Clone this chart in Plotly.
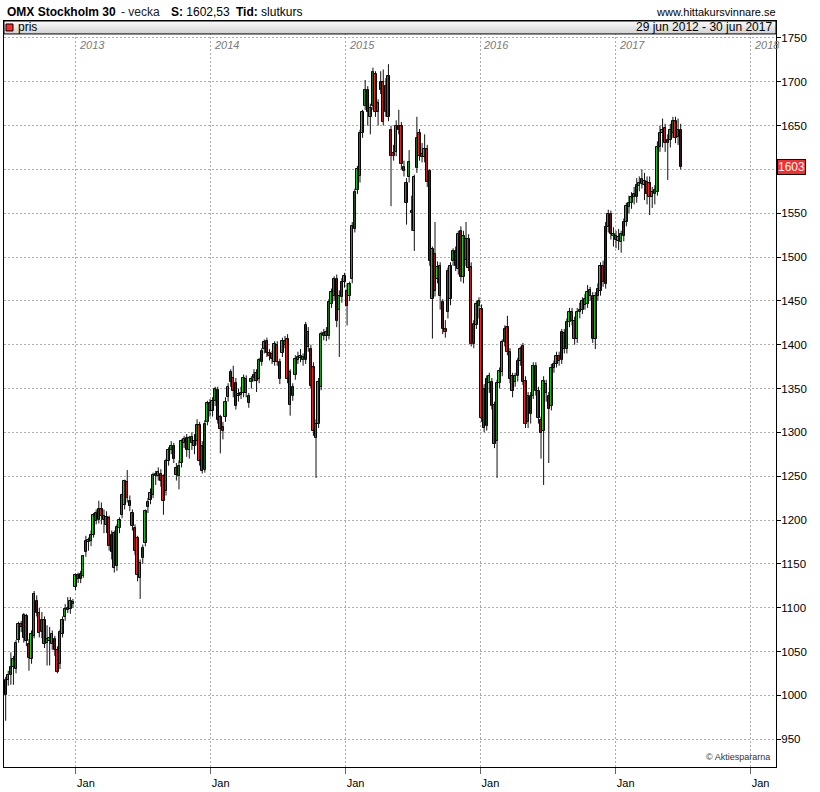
import pandas as pd
import plotly.graph_objects as go

# ---------------- data (weekly OHLC, OMX Stockholm 30) ----------------
first_week = "2012-06-25"

opens = [
    1000,1018,1023,1032,1030,1063,1081,1065,1091,1058,
    1041,1068,1108,1094,1072,1086,1060,1062,1058,1064,
    1052,1036,1070,1089,1097,1098,1104,1123,1137,1133,
    1136,1163,1175,1176,1183,1208,1200,1213,1200,1203,
    1202,1183,1185,1148,1191,1206,1217,1243,1222,1208,
    1191,1180,1134,1157,1174,1215,1223,1228,1250,1250,
    1253,1250,1233,1267,1280,1284,1259,1250,1265,1288,
    1293,1280,1288,1290,1290,1308,1285,1257,1312,1334,
    1324,1336,1348,1318,1306,1318,1340,1358,1362,1356,
    1341,1345,1345,1361,1333,1358,1366,1368,1361,1380,
    1395,1404,1390,1389,1380,1400,1380,1390,1400,1407,
    1369,1341,1365,1383,1385,1383,1382,1415,1395,1375,
    1293,1310,1352,1410,1414,1410,1447,1456,1475,1440,
    1454,1471,1461,1456,1475,1532,1577,1592,1642,1672,
    1691,1660,1672,1709,1665,1691,1700,1665,1706,1645,
    1619,1620,1649,1649,1603,1585,1591,1550,1530,1602,
    1642,1614,1614,1623,1598,1452,1503,1475,1490,1449,
    1418,1437,1452,1495,1507,1486,1530,1477,1497,1521,
    1489,1401,1422,1444,1441,1350,1307,1356,1358,1331,
    1290,1356,1369,1403,1420,1392,1364,1358,1364,1381,
    1398,1359,1342,1321,1342,1376,1347,1314,1301,1355,
    1341,1330,1373,1378,1387,1383,1413,1395,1426,1437,
    1427,1407,1437,1440,1445,1447,1462,1455,1407,1455,
    1461,1490,1469,1534,1549,1524,1524,1518,1517,1524,
    1540,1557,1562,1569,1569,1581,1583,1582,1586,1585,
    1568,1572,1574,1626,1642,1647,1634,1634,1642,1655,
    1637,1645,
]
highs = [
    1021,1028,1049,1045,1063,1084,1085,1094,1093,1064,
    1074,1119,1114,1100,1095,1090,1080,1078,1074,1068,
    1056,1075,1090,1104,1112,1112,1110,1139,1140,1142,
    1160,1182,1180,1188,1208,1212,1222,1220,1212,1210,
    1205,1188,1188,1195,1203,1230,1246,1257,1228,1212,
    1195,1182,1155,1172,1212,1225,1236,1254,1256,1260,
    1258,1252,1270,1283,1290,1288,1265,1268,1292,1296,
    1298,1296,1300,1298,1315,1312,1290,1314,1336,1338,
    1340,1352,1352,1320,1312,1340,1356,1372,1376,1362,
    1350,1352,1366,1365,1345,1364,1372,1372,1385,1396,
    1406,1408,1395,1393,1404,1404,1384,1408,1410,1412,
    1372,1356,1388,1392,1395,1390,1426,1420,1400,1380,
    1315,1362,1415,1418,1420,1452,1464,1478,1480,1462,
    1476,1482,1470,1472,1540,1578,1604,1645,1668,1702,
    1695,1675,1716,1712,1680,1712,1714,1704,1720,1650,
    1628,1656,1668,1654,1610,1590,1622,1570,1594,1660,
    1646,1630,1640,1628,1600,1512,1540,1495,1494,1452,
    1428,1488,1494,1510,1512,1530,1535,1530,1540,1526,
    1494,1428,1450,1454,1446,1355,1365,1368,1362,1335,
    1360,1374,1406,1422,1433,1396,1368,1368,1385,1398,
    1402,1364,1346,1346,1380,1380,1352,1318,1364,1360,
    1346,1378,1382,1392,1392,1418,1418,1430,1442,1442,
    1432,1442,1448,1454,1458,1468,1466,1460,1460,1470,
    1494,1496,1540,1554,1553,1534,1530,1532,1530,1544,
    1562,1570,1574,1580,1590,1592,1600,1596,1592,1592,
    1580,1582,1632,1650,1658,1652,1640,1652,1660,1660,
    1658,1652,
]
lows = [
    971,1011,1012,1012,1025,1060,1072,1060,1056,1028,
    1036,1065,1090,1066,1065,1054,1034,1034,1052,1045,
    1025,1030,1066,1085,1094,1093,1100,1120,1128,1128,
    1134,1158,1165,1170,1180,1195,1196,1195,1185,1185,
    1165,1155,1140,1142,1185,1202,1212,1220,1210,1188,
    1160,1130,1110,1150,1170,1208,1218,1225,1240,1245,
    1238,1206,1228,1262,1275,1265,1245,1235,1260,1282,
    1272,1270,1280,1275,1285,1262,1253,1254,1308,1318,
    1318,1330,1310,1276,1292,1312,1335,1352,1340,1326,
    1335,1338,1340,1340,1328,1350,1358,1346,1356,1376,
    1390,1386,1382,1378,1376,1376,1355,1386,1396,1356,
    1319,1336,1360,1378,1380,1376,1378,1392,1350,1296,
    1248,1305,1348,1405,1404,1406,1442,1450,1420,1386,
    1448,1465,1422,1450,1470,1528,1572,1585,1636,1668,
    1650,1640,1668,1660,1650,1686,1650,1660,1655,1558,
    1610,1615,1640,1600,1592,1537,1585,1530,1507,1596,
    1610,1608,1608,1580,1490,1407,1455,1470,1440,1412,
    1408,1430,1445,1490,1484,1480,1472,1470,1490,1484,
    1398,1396,1418,1430,1312,1300,1302,1345,1326,1282,
    1248,1350,1364,1398,1388,1356,1340,1352,1358,1376,
    1354,1305,1305,1310,1338,1342,1310,1270,1240,1335,
    1265,1325,1368,1374,1376,1378,1390,1390,1420,1422,
    1400,1402,1430,1435,1440,1442,1450,1402,1395,1450,
    1456,1466,1464,1528,1520,1512,1510,1508,1505,1518,
    1535,1550,1555,1560,1562,1575,1578,1565,1560,1548,
    1556,1560,1570,1620,1625,1620,1588,1625,1636,1630,
    1628,1600,
]
closes = [
    1018,1023,1032,1041,1060,1081,1078,1092,1062,1043,
    1070,1116,1094,1071,1086,1058,1064,1065,1070,1052,
    1027,1072,1086,1098,1100,1108,1106,1137,1133,1138,
    1159,1176,1177,1183,1206,1199,1213,1205,1205,1194,
    1170,1163,1145,1192,1200,1228,1244,1225,1216,1193,
    1165,1137,1151,1168,1210,1220,1231,1251,1252,1255,
    1245,1222,1267,1280,1285,1270,1251,1262,1290,1292,
    1280,1293,1295,1285,1308,1267,1256,1310,1334,1324,
    1336,1350,1314,1304,1302,1335,1352,1369,1347,1330,
    1344,1343,1362,1345,1341,1361,1362,1359,1382,1393,
    1403,1390,1387,1384,1401,1380,1361,1404,1404,1361,
    1331,1352,1384,1386,1387,1386,1422,1397,1353,1301,
    1310,1358,1412,1413,1410,1449,1460,1475,1427,1456,
    1471,1478,1444,1469,1535,1574,1600,1642,1665,1691,
    1665,1670,1711,1665,1676,1700,1654,1695,1660,1615,
    1615,1649,1645,1606,1598,1562,1608,1553,1591,1636,
    1615,1617,1623,1586,1495,1509,1461,1489,1455,1418,
    1414,1484,1490,1507,1490,1526,1477,1524,1521,1488,
    1401,1424,1447,1450,1316,1305,1361,1364,1330,1287,
    1356,1370,1403,1418,1392,1361,1347,1364,1381,1395,
    1358,1310,1312,1342,1376,1347,1316,1299,1359,1345,
    1327,1373,1378,1387,1381,1415,1395,1426,1437,1427,
    1407,1437,1440,1450,1452,1460,1455,1407,1455,1464,
    1490,1471,1534,1549,1526,1526,1520,1523,1526,1540,
    1558,1562,1569,1572,1582,1585,1589,1587,1572,1569,
    1574,1576,1626,1642,1645,1630,1630,1645,1655,1636,
    1645,1602.53,
]

year_ticks = ["2013-01-01", "2014-01-01", "2015-01-01",
              "2016-01-01", "2017-01-01", "2018-01-01"]
year_labels = ["2013", "2014", "2015", "2016", "2017", "2018"]
month_label = "Jan"
price_ticks = list(range(950, 1751, 50))
last_label = "1603"

dates = pd.date_range(first_week, periods=len(closes), freq="7D")

# ---------------- geometry helpers (pixels -> paper) ----------------
W, H = 820, 792
ML, MR, MT, MB = 3, 44, 21, 22
PW, PH = W - ML - MR, H - MT - MB


def px(xp):
    return (xp - ML) / PW


def py(yp):
    return (H - MB - yp) / PH


FONT = "Liberation Sans, Arial, sans-serif"
UP, DOWN = "#12e012", "#ff2020"

fig = go.Figure()

# wicks (drawn under the bodies)
wx, wy = [], []
for d, lo, hi in zip(dates, lows, highs):
    wx += [d, d, None]
    wy += [lo, hi, None]
fig.add_trace(go.Scatter(x=wx, y=wy, mode="lines",
                         line=dict(color="#111111", width=1),
                         hoverinfo="skip", showlegend=False))

# bodies
body_base = [min(o, c) for o, c in zip(opens, closes)]
body_size = [abs(c - o) for o, c in zip(opens, closes)]
body_col = [UP if c >= o else DOWN for o, c in zip(opens, closes)]
fig.add_trace(go.Bar(x=dates, y=body_size, base=body_base,
                     width=6.3 * 24 * 3600 * 1000,
                     marker=dict(color=body_col, line=dict(color="#000000", width=1)),
                     hoverinfo="skip", showlegend=False))

shapes = []
# header bar (gradient emulated with strips)
top, bot = 21, 34
n = bot - top
for k in range(n):
    g = int(250 - (250 - 212) * k / (n - 1))
    shapes.append(dict(type="rect", xref="paper", yref="paper",
                       x0=0, x1=1, y0=py(top + k + 1), y1=py(top + k),
                       fillcolor=f"rgb({g},{g},{g})", line=dict(width=0),
                       layer="above"))
shapes.append(dict(type="rect", xref="paper", yref="paper",
                   x0=0, x1=1, y0=py(bot), y1=1,
                   fillcolor="rgba(0,0,0,0)", line=dict(color="#000", width=1),
                   layer="above"))
# red legend square
shapes.append(dict(type="rect", xref="paper", yref="paper",
                   x0=px(5), x1=px(12), y0=py(31), y1=py(24),
                   fillcolor="#ff2a2a", line=dict(color="#000", width=1),
                   layer="above"))

annotations = []


def txt(text, x, y, anchor="left", size=11, color="#000", xref="paper", yref="paper", **kw):
    annotations.append(dict(text=text, x=x, y=y, xref=xref, yref=yref,
                            xanchor=anchor, yanchor="middle", showarrow=False,
                            font=dict(family=FONT, size=size, color=color), **kw))


# title line
txt("<b>OMX Stockholm 30</b>", px(4), py(12), size=12)
txt("- vecka", px(118), py(12), size=12, color="#222")
txt("<b>S:</b> 1602,53", px(168), py(12), size=12)
txt("<b>Tid:</b> slutkurs", px(233), py(12), size=12)
txt("www.hittakursvinnare.se", px(778), py(12), anchor="right", size=11)
# header texts
txt("pris", px(15), py(27.5), size=12)
txt("29 jun 2012 - 30 jun 2017", px(774), py(27.5), anchor="right", size=12)
# year labels
for d, lab in zip(year_ticks, year_labels):
    txt(f"<i>{lab}</i>", d, py(45), xref="x", size=11, color="#7a7a7a", xshift=1)
# last price badge
annotations.append(dict(text=last_label, x=1, y=closes[-1], xref="paper", yref="y",
                        xanchor="left", yanchor="middle", showarrow=False, xshift=1,
                        bgcolor="#ff2b2b", bordercolor="#000", borderwidth=1, borderpad=0,
                        font=dict(family=FONT, size=12, color="#ffffff")))
# copyright
txt("© Aktiespararna", px(772), py(760), anchor="right", size=9, color="#333")

price_text = ["" if v == 1600 else str(v) for v in price_ticks]

fig.update_layout(
    width=W, height=H,
    margin=dict(l=ML, r=MR, t=MT, b=MB, pad=0),
    paper_bgcolor="white", plot_bgcolor="white",
    font=dict(family=FONT, size=11, color="#000"),
    shapes=shapes, annotations=annotations,
    barmode="overlay", bargap=0,
    xaxis=dict(
        type="date", range=["2012-06-20 10:00", "2018-03-11"],
        tickvals=year_ticks, ticktext=[month_label] * len(year_ticks),
        ticks="outside", ticklen=6, tickcolor="#666", tickwidth=1,
        ticklabelshift=10, tickfont=dict(size=11),
        showgrid=True, gridcolor="#ababab", griddash="2px,2px", gridwidth=1,
        showline=True, linecolor="#000", linewidth=1, mirror=True,
        zeroline=False, fixedrange=True,
    ),
    yaxis=dict(
        side="right", range=[918.2, 1769.3],
        tickvals=price_ticks, ticktext=price_text,
        ticks="outside", ticklen=4, tickcolor="#000",
        tickfont=dict(size=11.5), ticklabelstandoff=-2,
        showgrid=True, gridcolor="#ababab", griddash="2px,2px", gridwidth=1,
        showline=True, linecolor="#000", linewidth=1, mirror=True,
        zeroline=False, fixedrange=True,
    ),
)

fig.write_html(
    "out.html",
    config={"displayModeBar": False},
    post_script="document.body.style.margin='0';document.body.style.overflow='hidden';",
)
